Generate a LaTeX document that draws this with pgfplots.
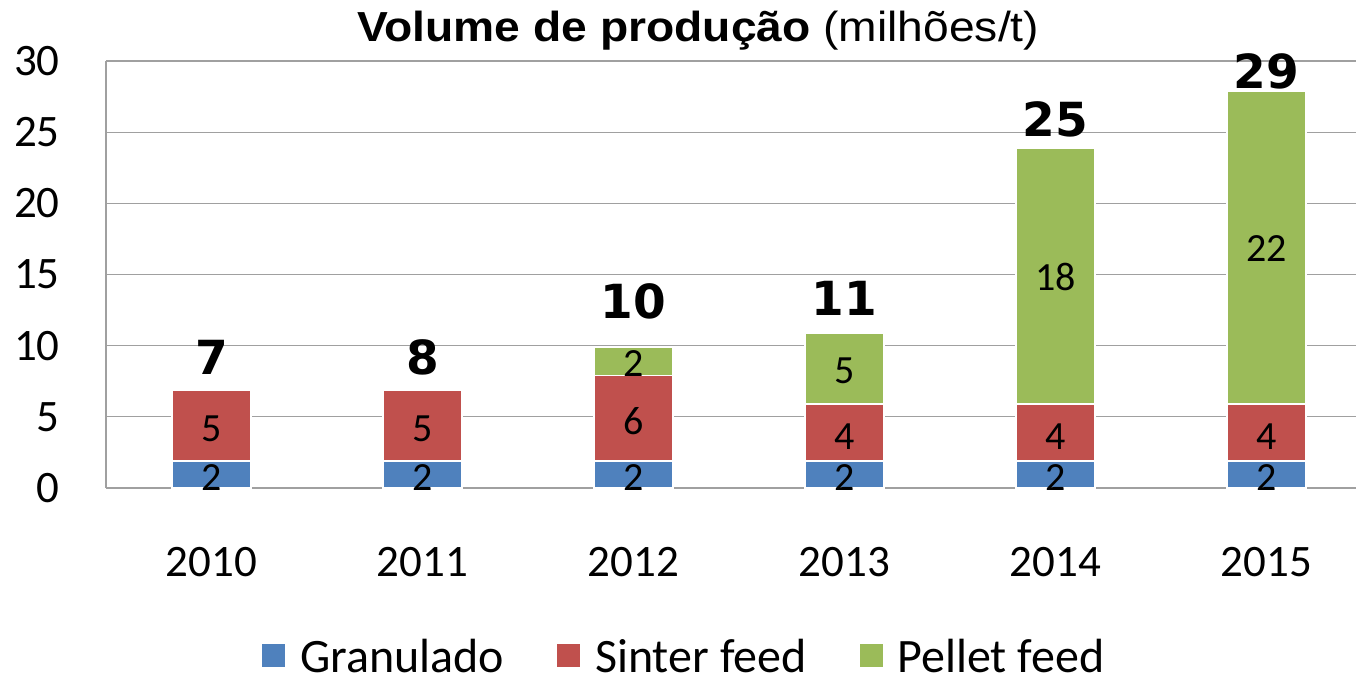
\documentclass[border=0pt]{standalone}
\usepackage{fontspec}
\setmainfont{Carlito}
\newfontfamily\titlefont{Liberation Sans}[FakeStretch=1.1]
\newfontfamily\labfont{DejaVu Sans}
\usepackage{pgfplots}
\pgfplotsset{compat=1.18}
\definecolor{cblue}{HTML}{4F81BD}
\definecolor{cred}{HTML}{C0504D}
\definecolor{cgreen}{HTML}{9BBB59}
\definecolor{gridc}{RGB}{160,160,160}
\begin{document}
\begin{tikzpicture}
\path[use as bounding box] (0,0) rectangle (1356pt,678pt);
\node[anchor=base west, inner sep=0pt] at (357pt,636pt) {\titlefont\fontsize{42}{48}\selectfont\bfseries Volume de produção \mdseries(milhões/t)};
\begin{axis}[
  at={(106pt,190pt)}, anchor=south west, scale only axis,
  width=1250pt, height=427pt,
  xmin=-0.5, xmax=5.424, ymin=0, ymax=30,
  ybar stacked, bar width=79pt,
  xtick={0,1,2,3,4,5}, xticklabels={2010,2011,2012,2013,2014,2015},
  ytick={0,5,...,30},
  major tick length=0pt,
  ymajorgrids, grid style={gridc, line width=1.3pt},
  axis lines*=left, axis line style={gridc, line width=1.3pt, -},
  tick label style={font=\fontsize{45}{50}\selectfont},
  /pgf/number format/assume math mode=true,
  yticklabel style={anchor=east, inner sep=0pt, xshift=-46pt},
  xticklabel style={anchor=north, inner sep=0pt, yshift=-59pt},
  legend columns=3,
  legend style={at={(axis description cs:0.1248,-0.392)}, anchor=west,
    draw=none, fill=none, inner sep=0pt,
    font=\fontsize{48}{50}\selectfont,
    nodes={inner sep=0pt, text depth=0pt},
    /tikz/every odd column/.append style={column sep=15pt},
    /tikz/every even column/.append style={column sep=53pt}},
  legend image code/.code={\fill[#1, draw=none] (0pt,-11.5pt) rectangle (23pt,11.5pt);},
]
\addplot[fill=cblue, draw=white, line width=1.5pt] coordinates {(0,1.9) (1,1.9) (2,1.9) (3,1.9) (4,1.9) (5,1.9)};
\addplot[fill=cred, draw=white, line width=1.5pt] coordinates {(0,5) (1,5) (2,6) (3,4) (4,4) (5,4)};
\addplot[fill=cgreen, draw=white, line width=1.5pt] coordinates {(0,0) (1,0) (2,2) (3,5) (4,18) (5,22)};
\legend{Granulado, Sinter feed, Pellet feed}
\end{axis}
\begin{axis}[
  at={(106pt,190pt)}, anchor=south west, scale only axis,
  width=1250pt, height=427pt,
  xmin=-0.5, xmax=5.424, ymin=0, ymax=30,
  hide axis, clip=false]
\addplot[draw=none, mark=none, nodes near coords, point meta=explicit symbolic,
  every node near coord/.append style={anchor=center, inner sep=0pt, font=\fontsize{40}{44}\selectfont}]
  table[meta=lab] {
x y lab
0 0.77 2
1 0.77 2
2 0.77 2
3 0.77 2
4 0.77 2
5 0.77 2
0 4.15 5
1 4.15 5
2 4.67 6
3 3.62 4
4 3.62 4
5 3.62 4
2 8.78 2
3 8.26 5
4 14.83 18
5 16.83 22
};
\addplot[draw=none, mark=none, nodes near coords, point meta=explicit symbolic,
  every node near coord/.append style={anchor=center, inner sep=0pt, font=\labfont\bfseries\fontsize{47}{50}\selectfont}]
  table[meta=lab] {
x y lab
0 9.2 7
1 9.2 8
2 13.14 10
3 13.35 11
4 25.9 25
5 29.3 29
};
\end{axis}
\end{tikzpicture}
\end{document}
